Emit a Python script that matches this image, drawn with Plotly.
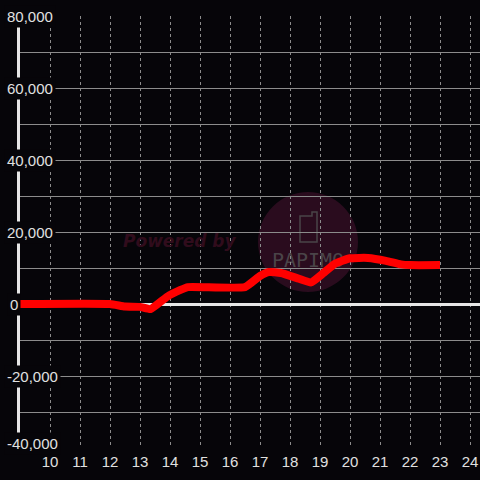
import plotly.graph_objects as go

# ---- data ----
hours = [9.0, 12.0, 12.5, 13.0, 13.35, 13.9, 14.35, 14.6, 16.5, 17.0, 17.3, 17.7,
         18.3, 18.7, 19.1, 19.5, 20.0, 20.6, 21.2, 21.7, 22.0, 23.0]
values = [0, 0, -700, -800, -1400, 2000, 3900, 4700, 4700, 7800, 8900, 8600,
          7000, 6000, 8500, 11200, 12700, 12800, 12000, 11000, 10800, 10800]
x_ticks = list(range(10, 25))
y_grid = list(range(-40000, 80001, 10000))
y_label_vals = [80000, 60000, 40000, 20000, 0, -20000, -40000]

BG = "#060509"
FONT = "Liberation Sans, Arial, sans-serif"

fig = go.Figure()
fig.add_trace(go.Scatter(
    x=hours, y=values, mode="lines",
    line=dict(color="#ff0000", width=8, shape="spline", smoothing=0.4),
    hoverinfo="skip", showlegend=False,
))

annotations = []
for v in y_label_vals:
    annotations.append(dict(
        xref="paper", yref="y", x=-0.0348, y=v, xanchor="left", yanchor="middle",
        text=f"{v:,}", showarrow=False, bgcolor=BG, borderpad=2,
        yshift=5 if v == -40000 else 0,
        xshift=3 if v == 0 else 0,
        font=dict(family=FONT, size=15, color="#e0e0e0"),
    ))
annotations.append(dict(
    xref="paper", yref="paper", x=(180 - 20) / 460, y=(448 - 241) / 432,
    text="Powered by", showarrow=False,
    font=dict(family="DejaVu Sans", size=17, color="#300c1c", weight="bold", style="italic"),
))

shapes = [
    dict(type="circle", xref="paper", yref="paper", layer="below",
         x0=(258 - 20) / 460, x1=(358 - 20) / 460, y0=(448 - 292) / 432, y1=(448 - 192) / 432,
         fillcolor="#2a0c1e", line=dict(width=0)),
    dict(type="path", xref="paper", yref="paper", layer="below",
         path=("M {a},{b} L {a},{c} L {d},{c} L {d},{e} L {f},{e} L {f},{b} Z").format(
             a=(300 - 20) / 460, b=(448 - 242) / 432, c=(448 - 216) / 432,
             d=(312 - 20) / 460, e=(448 - 212) / 432, f=(317 - 20) / 460),
         fillcolor="rgba(0,0,0,0)", line=dict(color="#4a4448", width=1.5)),
    dict(type="rect", xref="paper", yref="paper", layer="below",
         x0=(270 - 20) / 460, x1=(346 - 20) / 460, y0=(448 - 268) / 432, y1=(448 - 249) / 432,
         fillcolor="rgba(0,0,0,0)", line=dict(width=0),
         label=dict(text="PAPIMO", font=dict(family="DejaVu Sans Mono", size=20, color="#4a4448"),
                    textposition="middle center")),
]

fig.update_layout(
    width=480, height=480,
    margin=dict(l=20, r=0, t=16, b=32),
    paper_bgcolor=BG, plot_bgcolor=BG,
    showlegend=False,
    annotations=annotations,
    shapes=shapes,
    xaxis=dict(
        range=[9.0, 9.0 + 460 / 30], tickvals=x_ticks, ticktext=[str(t) for t in x_ticks],
        showgrid=True, gridcolor="#8c8c8c", gridwidth=1, griddash="3px,3px",
        zeroline=False, showline=False, ticks="", ticklabelstandoff=3,
        tickfont=dict(family=FONT, size=15, color="#e0e0e0"),
        fixedrange=True,
    ),
    yaxis=dict(
        range=[-40000, 80000], tickvals=y_grid, showticklabels=False,
        showgrid=True, gridcolor="#8c8c8c", gridwidth=1,
        zeroline=True, zerolinecolor="#e6e6e6", zerolinewidth=3,
        showline=True, linecolor="#e6e6e6", linewidth=3, ticks="",
        fixedrange=True,
    ),
)

fig.write_html(
    "out.html",
    config={"displayModeBar": False},
    post_script="document.body.style.margin='0';document.body.style.overflow='hidden';",
)
